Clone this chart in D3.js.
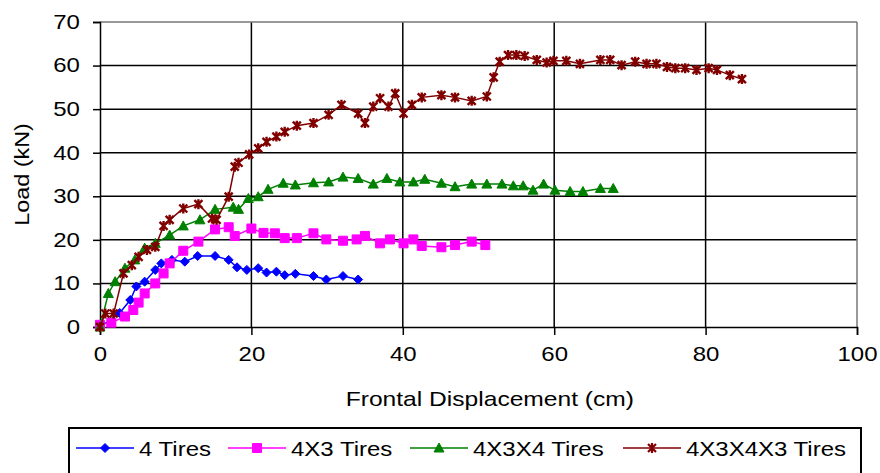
<!DOCTYPE html>
<html>
<head>
<meta charset="utf-8">
<script src="https://cdn.jsdelivr.net/npm/d3@7"></script>
<style>
  body { margin: 0; background: #fff; }
  svg text { font-family: "Liberation Sans", Arial, sans-serif; fill: #000; }
</style>
</head>
<body>
<div id="chart"></div>
<script>
// series names
const seriesNames = ["4 Tires", "4X3 Tires", "4X3X4 Tires", "4X3X4X3 Tires"];

// 4 Tires: [displacement cm, load kN]
const tires4 = [
  [0, 0], [2.6, 3.2], [4.0, 6.2], [4.8, 9.3], [5.9, 10.4], [7.3, 13.1], [8.1, 14.6],
  [9.5, 15.4], [11.2, 15.0], [12.9, 16.3], [15.2, 16.3], [17.0, 15.4], [18.1, 13.7],
  [19.4, 13.1], [20.9, 13.5], [22.0, 12.5], [23.3, 12.7], [24.4, 11.9], [25.8, 12.2],
  [28.2, 11.7], [29.9, 10.9], [32.1, 11.7], [34.1, 10.9]
];

// 4X3 Tires
const tires4x3 = [
  [0, 0.5], [1.5, 1.0], [3.3, 2.4], [4.4, 3.9], [5.1, 5.6], [5.9, 7.7], [7.3, 10.0],
  [8.4, 12.3], [9.2, 14.6], [11.0, 17.5], [13.0, 19.6], [15.2, 22.4], [17.0, 22.9],
  [17.8, 20.9], [20.0, 22.6], [21.6, 21.6], [23.1, 21.5], [24.4, 20.4], [26.0, 20.4],
  [28.2, 21.5], [29.9, 20.1], [32.1, 19.8], [33.9, 20.1], [35.0, 20.9], [37.0, 19.2],
  [38.3, 20.1], [40.1, 19.2], [41.4, 20.1], [42.5, 18.6], [45.1, 18.3], [46.9, 18.8],
  [49.1, 19.6], [50.9, 18.8]
];

// 4X3X4 Tires
const tires4x3x4 = [
  [0, 0], [1.1, 7.7], [2.0, 10.4], [3.3, 13.5], [4.6, 15.4], [5.9, 18.1], [7.3, 19.2],
  [9.2, 21.1], [11.0, 23.2], [13.2, 24.6], [15.2, 27.0], [17.6, 27.5], [18.3, 27.0],
  [19.6, 29.5], [20.9, 29.9], [22.2, 31.6], [24.2, 33.0], [25.8, 32.6], [28.2, 33.1],
  [30.2, 33.3], [32.1, 34.4], [34.1, 34.1], [36.1, 32.8], [37.9, 34.1], [39.6, 33.3],
  [41.4, 33.3], [42.9, 33.9], [45.1, 33.0], [46.9, 32.2], [49.1, 32.8], [51.1, 32.8],
  [53.1, 32.8], [54.6, 32.4], [55.9, 32.4], [57.2, 31.4], [58.6, 32.8], [60.1, 31.4],
  [62.1, 31.1], [63.8, 31.1], [66.1, 31.8], [67.8, 31.8]
];

// 4X3X4X3 Tires
const tires4x3x4x3 = [
  [0, 0], [0.7, 3.1], [1.8, 3.1], [3.1, 12.3], [4.2, 14.2], [5.1, 16.1], [6.2, 17.7],
  [7.3, 18.4], [8.4, 23.2], [9.2, 24.6], [11.0, 27.2], [13.0, 28.2], [14.8, 24.9],
  [15.4, 24.6], [17.0, 29.9], [17.8, 36.8], [18.3, 37.7], [19.7, 39.6], [20.9, 41.0],
  [22.0, 42.5], [23.3, 43.7], [24.4, 44.8], [26.0, 46.2], [28.2, 46.8], [30.2, 48.7],
  [31.9, 51.0], [34.1, 49.0], [35.0, 46.8], [36.1, 50.6], [37.0, 52.5], [38.1, 50.6],
  [39.0, 53.6], [40.1, 49.0], [41.2, 51.0], [42.5, 52.7], [45.1, 53.2], [46.9, 52.7],
  [49.1, 51.9], [51.1, 52.9], [52.0, 57.3], [52.8, 60.9], [53.9, 62.4], [55.0, 62.4],
  [56.1, 62.2], [57.7, 61.3], [59.0, 60.7], [59.9, 61.1], [61.6, 61.1], [63.4, 60.4],
  [66.1, 61.3], [67.4, 61.3], [68.9, 60.1], [70.7, 60.9], [72.2, 60.4], [73.5, 60.4],
  [74.9, 59.7], [76.0, 59.4], [77.3, 59.4], [78.8, 59.0], [80.4, 59.4], [81.5, 59.0],
  [83.2, 57.8], [84.8, 56.9]
];

const xTicks = [0, 20, 40, 60, 80, 100];
const yTicks = [0, 10, 20, 30, 40, 50, 60, 70];

const colors = ["#0000ff", "#ff00ff", "#008000", "#800000"];
const shapes = ["diamond", "square", "triangle", "star"];
const allSeries = [tires4, tires4x3, tires4x3x4, tires4x3x4x3];

const width = 880, height = 473;
const margin = { left: 100, top: 22, right: 23, bottom: 146 };
const innerW = width - margin.left - margin.right;
const innerH = height - margin.top - margin.bottom;
const stretch = 1.2; // the original text is drawn wide

const svg = d3.select("#chart").append("svg")
  .attr("width", width)
  .attr("height", height);

const g = svg.append("g")
  .attr("transform", `translate(${margin.left},${margin.top})`);

const x = d3.scaleLinear().domain([0, 100]).range([0, innerW]);
const y = d3.scaleLinear().domain([0, 70]).range([innerH, 0]);

// grid
g.selectAll(".hgrid").data(yTicks.slice(1, -1)).enter().append("line")
  .attr("x1", 0).attr("x2", innerW)
  .attr("y1", d => y(d)).attr("y2", d => y(d))
  .attr("stroke", "#000").attr("stroke-width", 1.5);
g.selectAll(".vgrid").data(xTicks.slice(1, -1)).enter().append("line")
  .attr("x1", d => x(d)).attr("x2", d => x(d))
  .attr("y1", 0).attr("y2", innerH)
  .attr("stroke", "#000").attr("stroke-width", 1.5);

// plot border (top & right greyish)
g.append("line").attr("x1", 0).attr("x2", innerW).attr("y1", 0).attr("y2", 0)
  .attr("stroke", "#777").attr("stroke-width", 1.5);
g.append("line").attr("x1", innerW).attr("x2", innerW).attr("y1", 0).attr("y2", innerH)
  .attr("stroke", "#777").attr("stroke-width", 1.5);

// axes
const xAxis = g.append("g")
  .attr("transform", `translate(0,${innerH})`)
  .call(d3.axisBottom(x).tickValues(xTicks).tickSize(8).tickPadding(12));
const yAxis = g.append("g")
  .call(d3.axisLeft(y).tickValues(yTicks).tickSize(7).tickPadding(9.7));

[xAxis, yAxis].forEach(a => {
  a.select(".domain").attr("stroke", "#000").attr("stroke-width", 1.5);
  a.selectAll(".tick line").attr("stroke", "#000").attr("stroke-width", 1.5);
  a.selectAll(".tick text").style("font-size", "20px")
    .style("font-family", "'Liberation Sans', Arial, sans-serif")
    .attr("transform", `scale(${stretch},1)`);
});

// axis titles
svg.append("text")
  .attr("transform", `translate(${margin.left + x(51.5)},406) scale(${stretch},1)`)
  .attr("text-anchor", "middle")
  .style("font-size", "20.5px")
  .text("Frontal Displacement (cm)");

svg.append("text")
  .attr("transform", `translate(29,${margin.top + y(35)}) rotate(-90) scale(${stretch},1)`)
  .attr("text-anchor", "middle")
  .style("font-size", "19.5px")
  .text("Load (kN)");

// marker paths
function markerPath(shape) {
  if (shape === "diamond") return "M0,-4.5L4.5,0L0,4.5L-4.5,0Z";
  if (shape === "square") return "M-4.5,-4.5H4.5V4.5H-4.5Z";
  if (shape === "triangle") return "M0,-5L5,4L-5,4Z";
  // star: x cross + vertical bar
  return "M-4,-4L4,4M-4,4L4,-4M0,-5V5";
}

const line = d3.line().x(d => x(d[0])).y(d => y(d[1]));

allSeries.forEach((data, i) => {
  const sg = g.append("g");
  sg.append("path")
    .datum(data)
    .attr("d", line)
    .attr("fill", "none")
    .attr("stroke", colors[i])
    .attr("stroke-width", 1.5);
  sg.selectAll("path.mk").data(data).enter().append("path")
    .attr("class", "mk")
    .attr("transform", d => `translate(${x(d[0])},${y(d[1])})`)
    .attr("d", markerPath(shapes[i]))
    .attr("fill", shapes[i] === "star" ? "none" : colors[i])
    .attr("stroke", colors[i])
    .attr("stroke-width", shapes[i] === "star" ? 2.4 : 1);
});

// legend
const legend = svg.append("g");
legend.append("rect")
  .attr("x", 69).attr("y", 428)
  .attr("width", 792).attr("height", 60)
  .attr("fill", "#fff").attr("stroke", "#000").attr("stroke-width", 2);

const legendX = [76, 228, 410, 623];
seriesNames.forEach((name, i) => {
  const lg = legend.append("g").attr("transform", `translate(${legendX[i]},448)`);
  lg.append("line").attr("x1", 0).attr("x2", 58).attr("y1", 0).attr("y2", 0)
    .attr("stroke", colors[i]).attr("stroke-width", 1.5);
  lg.append("path")
    .attr("transform", "translate(29,0)")
    .attr("d", markerPath(shapes[i]))
    .attr("fill", shapes[i] === "star" ? "none" : colors[i])
    .attr("stroke", colors[i])
    .attr("stroke-width", shapes[i] === "star" ? 2.2 : 1);
  lg.append("text")
    .attr("transform", `translate(63,8) scale(${stretch},1)`)
    .style("font-size", "20px")
    .text(name);
});
</script>
</body>
</html>
